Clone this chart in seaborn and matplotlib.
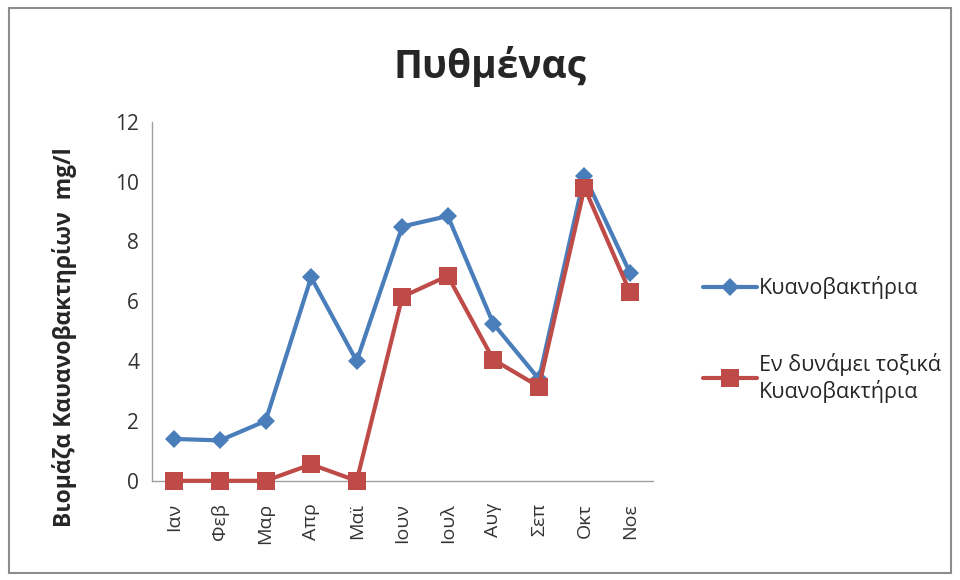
"""Line chart: cyanobacteria biomass at the bottom (Πυθμένας)."""

import matplotlib.pyplot as plt
import numpy as np
import pandas as pd
import seaborn as sns
from matplotlib.patches import Rectangle

months = ["Ιαν", "Φεβ", "Μαρ", "Απρ", "Μαϊ", "Ιουν", "Ιουλ", "Αυγ", "Σεπ", "Οκτ", "Νοε"]
cyano_total = [1.4, 1.35, 2.0, 6.8, 4.0, 8.5, 8.85, 5.25, 3.4, 10.2, 6.95]
cyano_toxic = [0.0, 0.0, 0.0, 0.55, 0.0, 6.15, 6.85, 4.05, 3.15, 9.8, 6.3]
series_names = ["Κυανοβακτήρια", "Εν δυνάμει τοξικά\nΚυανοβακτήρια"]
y_ticks = [0, 2, 4, 6, 8, 10, 12]

sns.set_theme(style="white")
plt.rcParams["font.family"] = ["Open Sans", "DejaVu Sans"]

fig = plt.figure(figsize=(9.6, 5.8), dpi=100)
ax = fig.add_axes([0.158, 0.171, 0.522, 0.619])

x = np.arange(len(months))
df_total = pd.DataFrame({"x": x, "y": cyano_total})
df_toxic = pd.DataFrame({"x": x, "y": cyano_toxic})

sns.lineplot(data=df_total, x="x", y="y", ax=ax, color="#4A7EBB", linewidth=3,
             marker="D", markersize=9, markeredgewidth=0, label=series_names[0],
             clip_on=False, zorder=3)
sns.lineplot(data=df_toxic, x="x", y="y", ax=ax, color="#BE4B48", linewidth=3,
             marker="s", markersize=13, markeredgewidth=0, label=series_names[1],
             clip_on=False, zorder=4)

ax.set_xlim(-0.5, len(months) - 0.5)
ax.set_ylim(0, 12)
ax.set_yticks(y_ticks)
ax.set_yticklabels([str(t) for t in y_ticks], fontsize=15, color="#333333")
ax.set_xticks(x)
ax.set_xticklabels(months, rotation=90, fontsize=14, color="#333333")
ax.tick_params(axis="x", length=0, pad=16)
ax.tick_params(axis="y", length=0, pad=9)
ax.set_xlabel("")
ax.set_ylabel("Βιομάζα Καυανοβακτηρίων  mg/l", fontsize=16.5, fontweight="bold")
# Excel placed the label a bit below the axes centre.
ax.yaxis.set_label_coords(-0.15, 0.40)

for side in ["top", "right"]:
    ax.spines[side].set_visible(False)
for side in ["left", "bottom"]:
    ax.spines[side].set_color("#A0A0A0")
    ax.spines[side].set_linewidth(1)

fig.text(0.51, 0.885, "Πυθμένας", fontsize=28, fontweight="bold",
         ha="center", va="center")

ax.legend(loc="center left", bbox_to_anchor=(0.712, 0.415),
          bbox_transform=fig.transFigure, frameon=False, fontsize=15.5,
          handlelength=2.5, handletextpad=0.1, labelspacing=2.5)

# Chart border.
fig.patches.append(Rectangle((0.009, 0.012), 0.982, 0.975, transform=fig.transFigure,
                             fill=False, edgecolor="#8C8C8C", linewidth=1.5))

fig.savefig("out.png", dpi=100, facecolor="white")
plt.close(fig)
